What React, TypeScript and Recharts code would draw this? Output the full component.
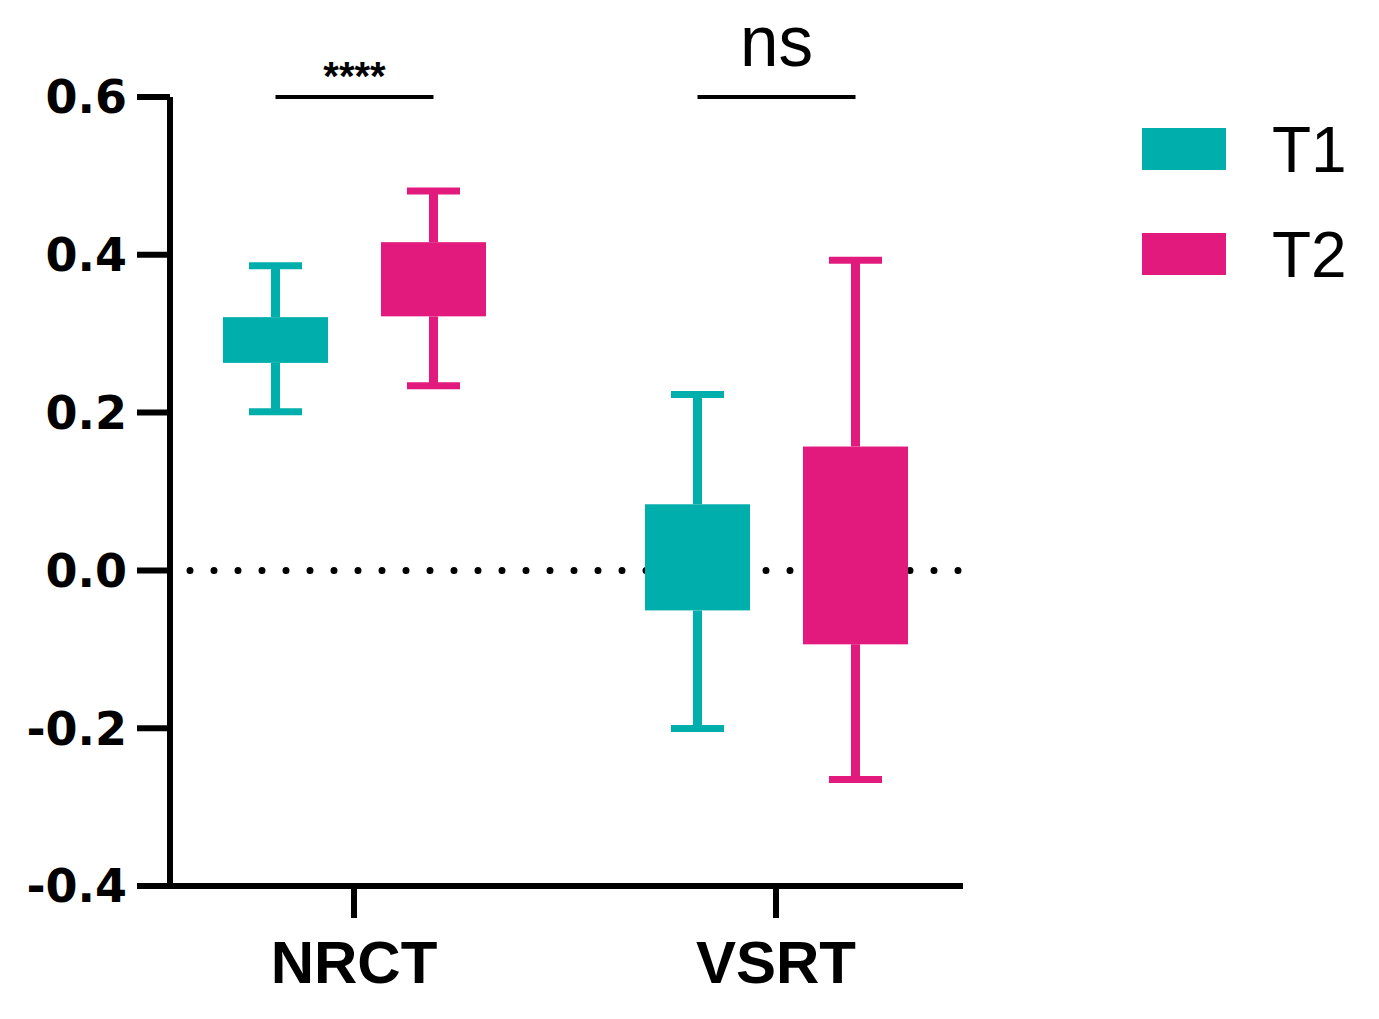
import React from 'react';
import { ComposedChart, Bar, XAxis, YAxis, ReferenceLine, Legend } from 'recharts';

const categories = ['NRCT', 'VSRT'];
const seriesNames = ['T1', 'T2'];
const seriesColors = ['#00AEAB', '#E31A7E'];
// [min, q1, q3, max]
const t1Values = [
  [0.201, 0.263, 0.321, 0.386],
  [-0.2005, -0.0507, 0.0838, 0.223],
];
const t2Values = [
  [0.234, 0.322, 0.416, 0.481],
  [-0.265, -0.0937, 0.157, 0.393],
];
const significance = ['****', 'ns'];
const bracketValue = 0.6;
const yTicks = [-0.4, -0.2, 0, 0.2, 0.4, 0.6];

const data = categories.map((c, i) => ({
  name: c,
  T1: [t1Values[i][1], t1Values[i][2]],
  T2: [t2Values[i][1], t2Values[i][2]],
  T1stats: t1Values[i],
  T2stats: t2Values[i],
  sig: significance[i],
}));

const BAR_GAP = 53;

const makeBoxShape = (key: 'T1' | 'T2', color: string, drawBracket: boolean) => (props: any) => {
  const { x, y, width, height, payload } = props;
  const stats = payload[key + 'stats'];
  const [mn, q1, q3, mx] = stats;
  const top = Math.min(y, y + height);
  const h = Math.abs(height);
  const ppu = h / (q3 - q1);
  const toY = (v: number) => top + (q3 - v) * ppu;
  const cx = x + width / 2;
  const capW = 53;
  const yMax = toY(mx);
  const yMin = toY(mn);
  const els: any[] = [];
  els.push(<line key="w1" x1={cx} x2={cx} y1={yMax} y2={top} stroke={color} strokeWidth={9} />);
  els.push(<line key="w2" x1={cx} x2={cx} y1={top + h} y2={yMin} stroke={color} strokeWidth={9} />);
  els.push(<line key="c1" x1={cx - capW / 2} x2={cx + capW / 2} y1={yMax} y2={yMax} stroke={color} strokeWidth={7} />);
  els.push(<line key="c2" x1={cx - capW / 2} x2={cx + capW / 2} y1={yMin} y2={yMin} stroke={color} strokeWidth={7} />);
  els.push(<rect key="b" x={x} y={top} width={width} height={h} fill={color} />);
  if (drawBracket) {
    const leftCx = cx - (width + BAR_GAP);
    const by = toY(bracketValue);
    const mid = (leftCx + cx) / 2;
    els.push(<line key="br" x1={leftCx} x2={cx} y1={by} y2={by} stroke="#000" strokeWidth={4} />);
    if (payload.sig === 'ns') {
      els.push(
        <text key="t" x={mid} y={by - 31} textAnchor="middle" fontFamily="Liberation Sans, Arial, sans-serif" fontSize={72} textLength={73} lengthAdjust="spacingAndGlyphs" fill="#000">
          {payload.sig}
        </text>
      );
    } else {
      els.push(
        <text key="t" x={mid} y={by - 7} textAnchor="middle" fontFamily="Liberation Sans, Arial, sans-serif" fontWeight="bold" fontSize={40} fill="#000">
          {payload.sig}
        </text>
      );
    }
  }
  return <g>{els}</g>;
};

const renderLegend = () => (
  <svg width={237} height={200} style={{ display: 'block' }}>
    {seriesNames.map((n, i) => (
      <g key={n}>
        <rect x={0} y={28 + i * 105} width={84} height={42} fill={seriesColors[i]} />
        <text x={130} y={72 + i * 105} fontFamily="Liberation Sans, Arial, sans-serif" fontSize={64} fill="#000">
          {n}
        </text>
      </g>
    ))}
  </svg>
);

export default function App() {
  return (
    <div style={{ position: 'absolute', left: 0, top: 0, background: '#fff' }}>
      <ComposedChart
        width={1379}
        height={1019}
        data={data}
        margin={{ top: 97, right: 179, bottom: 0, left: 0 }}
        barCategoryGap={80}
        barGap={BAR_GAP}
        barSize={105}
      >
        <ReferenceLine
          y={0}
          stroke="#000"
          strokeWidth={7}
          strokeDasharray="0 24"
          strokeLinecap="round"
          strokeDashoffset={4}
          zIndex={-50}
        />
        <XAxis
          dataKey="name"
          height={133}
          padding={{ left: -27, right: -24 }}
          axisLine={{ stroke: '#000', strokeWidth: 6 }}
          tickLine={{ stroke: '#000', strokeWidth: 6 }}
          tickSize={32}
          tickMargin={22}
          tick={{ fill: '#000', fontSize: 60, fontWeight: 'bold', fontFamily: 'Liberation Sans, Arial, sans-serif' }}
        />
        <YAxis
          width={170}
          domain={[-0.4, 0.6]}
          ticks={yTicks}
          type="number"
          axisLine={{ stroke: '#000', strokeWidth: 6 }}
          tickLine={{ stroke: '#000', strokeWidth: 6 }}
          tickSize={33}
          tickMargin={10}
          tickFormatter={(v: number) => v.toFixed(1)}
          tick={{ fill: '#000', fontSize: 46, fontWeight: 'bold', fontFamily: 'DejaVu Sans, sans-serif' }}
        />
        <Legend
          content={renderLegend}
          layout="vertical"
          align="right"
          verticalAlign="top"
          width={237}
          wrapperStyle={{ left: 1142, right: 'auto', top: 100, width: 237 }}
        />
        <Bar dataKey="T1" name="T1" fill={seriesColors[0]} isAnimationActive={false} shape={makeBoxShape('T1', seriesColors[0], false)} />
        <Bar dataKey="T2" name="T2" fill={seriesColors[1]} isAnimationActive={false} shape={makeBoxShape('T2', seriesColors[1], true)} />
      </ComposedChart>
    </div>
  );
}
